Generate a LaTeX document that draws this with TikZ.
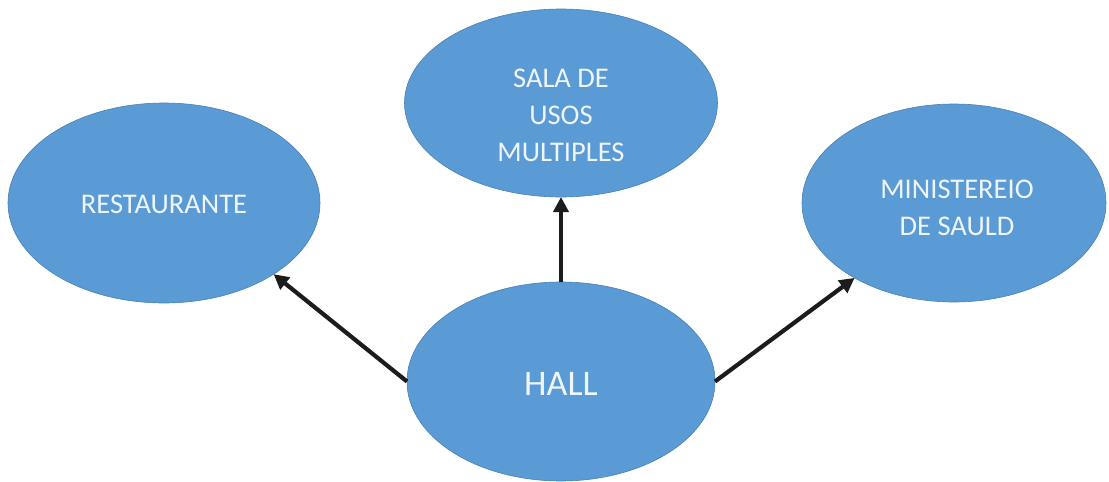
\documentclass[tikz,border=0pt]{standalone}
\usepackage{fontspec}
\setmainfont{Carlito}
\usetikzlibrary{shapes.geometric,arrows.meta}
\definecolor{bubble}{HTML}{5B9BD5}
\definecolor{bubbleedge}{HTML}{4A80B4}
\definecolor{bubbletext}{HTML}{EEF5FC}
\definecolor{arrowc}{HTML}{1C1C1C}
\begin{document}
\begin{tikzpicture}[x=1pt,y=-1pt,
  bubble/.style={ellipse,fill=bubble,draw=bubbleedge,line width=0.6pt,inner sep=0pt,outer sep=0pt},
  label/.style={text=bubbletext,align=center,font=\fontsize{28.5}{37}\selectfont},
  link/.style={arrowc,line width=4.2pt,-{Triangle[length=15pt,width=15pt]}}]
\useasboundingbox (0,0) rectangle (1109,482);
\node[bubble,minimum width=312pt,minimum height=200pt] (rest) at (164,203) {};
\node[label] (restt) at (164,204) {RESTAURANTE};
\node[bubble,minimum width=313pt,minimum height=188pt] (sala) at (561,103) {};
\node[label] (salat) at (561,115) {SALA DE\\USOS\\MULTIPLES};
\node[bubble,minimum width=304pt,minimum height=198pt] (min) at (954,203) {};
\node[label] (mint) at (957,208) {MINISTEREIO\\DE SAULD};
\node[bubble,minimum width=308pt,minimum height=199pt] (hall) at (561,381.5) {};
\node[label,font=\fontsize{36}{40}\selectfont] (hallt) at (561,384) {HALL};
\draw[link] (hall.west) -- (rest.-33.6);
\draw[link] (hall.north) -- (sala.south);
\draw[link] (hall.east) -- (min.-143.5);
\end{tikzpicture}
\end{document}
